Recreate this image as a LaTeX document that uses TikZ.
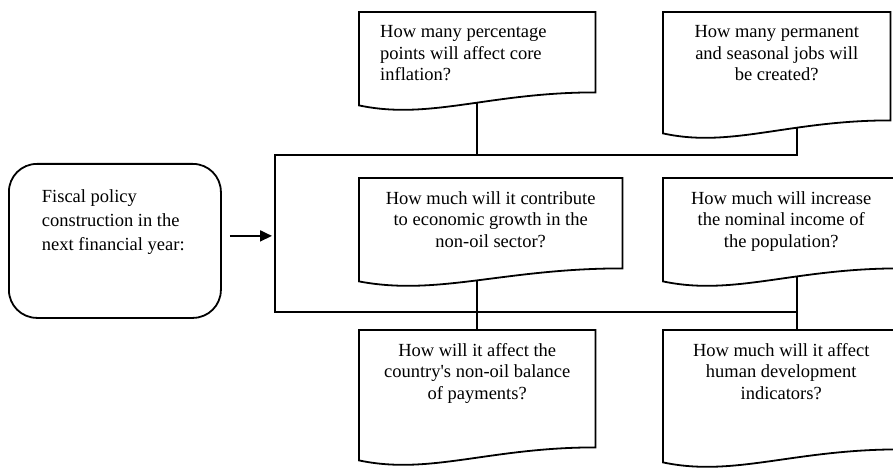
\documentclass[tikz,border=0pt]{standalone}
\usepackage{fontspec}
\setmainfont{Liberation Serif}
\usetikzlibrary{arrows.meta,calc}
\pgfdeclarelayer{back}
\pgfdeclarelayer{mid}
\pgfsetlayers{back,mid,main}
\newcommand{\doctext}[4][\centering]{\parbox[c][#3][t]{#2}{\vspace*{13pt}#1 #4}}

\begin{document}
\begin{tikzpicture}[x=1pt, y=1pt,
  doc/.style={anchor=north west, inner sep=0pt, font=\fontsize{18.5}{21.7}\selectfont},
  docline/.style={line width=1.8pt, fill=white},
  link/.style={line width=1.6pt},
  flow/.style={line width=1.8pt, -{Triangle[length=12pt,width=11pt]}, shorten <=8pt, shorten >=3pt}]
\useasboundingbox (0,0) rectangle (893,469);

% start box
\node[doc, draw, rounded corners=28pt, line width=1.8pt] (fiscal) at (8,306)
  {\parbox[c][154pt][t]{212pt}{\vspace*{26pt}\raggedright\leftskip=33pt\baselineskip=24pt Fiscal policy\\construction in the\\next financial year:}};

% questions
\node[doc] (infl) at (359,457) {\doctext[\raggedright\leftskip=21pt]{236pt}{80pt}{How many percentage\\points will affect core\\inflation?}};
\node[doc] (jobs) at (663,457) {\doctext{227pt}{108pt}{How many permanent\\and seasonal jobs will\\be created?}};
\node[doc] (growth) at (359,291) {\doctext{263pt}{90pt}{How much will it contribute\\to economic growth in the\\non-oil sector?}};
\node[doc] (income) at (663,291) {\doctext{236pt}{90pt}{How much will increase\\the nominal income of\\the population?}};
\node[doc] (balance) at (359,139) {\doctext{236pt}{117pt}{How will it affect the\\country\textquotesingle s non-oil balance\\of payments?}};
\node[doc] (hdi) at (663,139) {\doctext{236pt}{119pt}{How much will it affect\\human development\\indicators?}};

\begin{pgfonlayer}{mid}
\foreach \d in {infl,jobs,growth,income,balance,hdi}
  \draw[docline] (\d.north west) -- (\d.north east) -- (\d.south east)
    .. controls ($(\d.south east)!0.45!(\d.south west)$) and ($(\d.south west)!0.3!(\d.south east)+(0,-28)$)
    .. ($(\d.south west)+(0,-13)$) -- cycle;
\end{pgfonlayer}

% bracket
\coordinate (bar-nw) at (275,314);
\coordinate (bar-sw) at (275,157);
\coordinate (rcol) at (797,0);

\begin{pgfonlayer}{back}
\draw[link] (infl.south) -- (infl.south |- bar-nw);
\draw[link] (jobs.south -| rcol) |- (bar-nw) -- (bar-sw) -| (income.south -| rcol);
\draw[link] (income.south -| rcol) -- (hdi.north -| rcol);
\draw[link] (growth.south -| infl.south) -- (balance.north);
\end{pgfonlayer}

\draw[flow] ([yshift=5pt]fiscal.east) -- ([yshift=5pt]fiscal.east -| bar-nw);
\end{tikzpicture}
\end{document}
